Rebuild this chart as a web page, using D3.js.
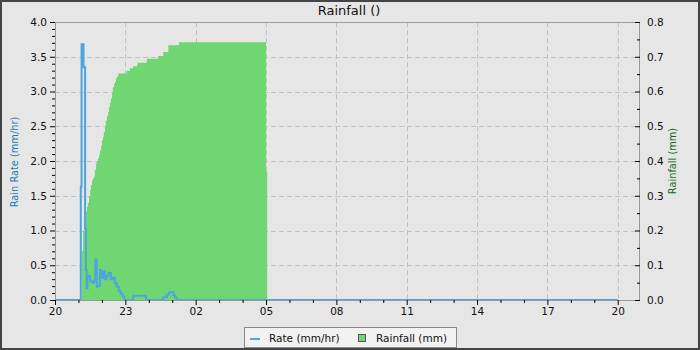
<!DOCTYPE html>
<html><head><meta charset="utf-8">
<script src="https://cdn.jsdelivr.net/npm/d3@7"></script>
<style>
html,body{margin:0;padding:0;background:#e6e6e6;}
svg{display:block;font-family:"DejaVu Sans",sans-serif;}
</style>
</head><body>
<svg id="chart" width="700" height="350"></svg>
<script>
// ---------- data ----------
const chartTitle = "Rainfall ()";
const leftAxisTitle = "Rain Rate (mm/hr)";
const rightAxisTitle = "Rainfall (mm)";
const legendLabels = ["Rate (mm/hr)", "Rainfall (mm)"];
// times: "HH:MM"; hours before 20 (or a leading "+") belong to the next day
const xDomain = ["20:00", "+20:57"];

const rateTimes = ["20:00","21:06","21:08","21:13","21:17","21:19","21:21","21:23","21:26","21:30","21:35",
  "21:40","21:43","21:47","21:50","21:55","21:58","22:02","22:07","22:12","22:17","22:23","22:28","22:33",
  "22:38","22:43","22:48","22:53","22:58","23:20","23:53","00:37","00:46","00:52","01:03","01:07","01:11","+20:00"];
const rateValues = [0,1.63,3.68,3.35,1.02,0.43,0.17,0.33,0.35,0.27,0.25,
  0.28,0.58,0.19,0.20,0.43,0.32,0.41,0.30,0.35,0.39,0.30,0.32,0.24,
  0.19,0.13,0.09,0.05,0,0.06,0,0.04,0.08,0.11,0.07,0.04,0,0];

const rainTimes = ["21:09","21:12","21:17","21:19","21:22","21:24","21:27","21:30","21:32","21:35","21:37",
  "21:40","21:42","21:45","21:47","21:50","21:53","21:55","21:58","22:00","22:03","22:05","22:08","22:10",
  "22:13","22:16","22:18","22:21","22:23","22:26","22:28","22:31","22:34","22:36","22:39","22:42","23:03",
  "23:12","23:20","23:31","23:55","00:24","00:37","00:50","01:17","05:00","05:03"];
const rainValues = [0.14,0.20,0.24,0.255,0.268,0.279,0.298,0.317,0.331,0.345,0.350,
  0.355,0.374,0.393,0.400,0.408,0.417,0.430,0.443,0.460,0.470,0.484,0.499,0.516,
  0.530,0.542,0.555,0.568,0.580,0.597,0.612,0.622,0.628,0.638,0.643,0.652,0.660,
  0.667,0.673,0.683,0.694,0.702,0.714,0.733,0.742,0.37,0];

const rateTicks = [0,0.5,1.0,1.5,2.0,2.5,3.0,3.5,4.0];
const rainTicks = [0,0.1,0.2,0.3,0.4,0.5,0.6,0.7,0.8];

// ---------- helpers ----------
const baseDay = new Date(2024,0,20);
function parseT(s){
  let next = false;
  if (s[0] === "+"){ next = true; s = s.slice(1); }
  const [h,m] = s.split(":").map(Number);
  if (h < 20) next = true;
  return new Date(2024,0,20 + (next?1:0), h, m);
}
const rate = rateTimes.map((t,i)=>({t:parseT(t), v:rateValues[i]}));
const rain = rainTimes.map((t,i)=>({t:parseT(t), v:rainValues[i]}));

// ---------- layout ----------
const W = 700, H = 350;
const L = 55, R = 640, T = 22, B = 300;
const svg = d3.select("#chart");

svg.append("rect").attr("x",1).attr("y",1).attr("width",W-2).attr("height",H-2)
  .attr("fill","#e6e6e6").attr("stroke","#444").attr("stroke-width",2);

const x = d3.scaleTime().domain(xDomain.map(parseT)).range([L,R]);
const yL = d3.scaleLinear().domain([0,4]).range([B,T]);
const yR = d3.scaleLinear().domain([0,0.8]).range([B,T]);

const hours = d3.timeHour.range(x.domain()[0], x.domain()[1]);
const majorX = hours.filter((d,i)=>i%3===0);

// grid
const grid = svg.append("g").attr("stroke","#c2c2c2").attr("stroke-dasharray","5,3").attr("stroke-width",1);
majorX.slice(1).forEach(d=>{
  grid.append("line").attr("x1",Math.round(x(d))+0.5).attr("x2",Math.round(x(d))+0.5).attr("y1",T).attr("y2",B);
});
rateTicks.slice(1,-1).forEach(v=>{
  grid.append("line").attr("x1",L).attr("x2",R).attr("y1",Math.round(yL(v))+0.5).attr("y2",Math.round(yL(v))+0.5);
});

// rainfall area (bars)
const area = d3.area().curve(d3.curveStepAfter)
  .x(d=>x(d.t)).y0(yR(0)).y1(d=>yR(d.v));
svg.append("path").datum(rain).attr("d",area).attr("fill","#6fd672");

// rate line
const line = d3.line().curve(d3.curveStepAfter).x(d=>x(d.t)).y(d=>yL(d.v));
svg.append("path").datum(rate).attr("d",line).attr("fill","none")
  .attr("stroke","#4ca6dd").attr("stroke-width",2);

// frame
svg.append("rect").attr("x",L+0.5).attr("y",T+0.5).attr("width",R-L-1).attr("height",B-T)
  .attr("fill","none").attr("stroke","#999").attr("stroke-width",1);

const fs = "10.5px";
function styleAxis(g){
  g.select(".domain").remove();
  g.selectAll(".tick line").attr("stroke","#000");
  g.selectAll(".tick text").attr("fill","#111").style("font-size",fs).style("font-family","DejaVu Sans");
}

// left axis
const gl = svg.append("g").attr("transform",`translate(${L},0)`)
  .call(d3.axisLeft(yL).tickValues(rateTicks).tickFormat(d3.format(".1f")).tickSize(5).tickPadding(3));
styleAxis(gl);
const minorL = d3.range(0,41).map(i=>i/10).filter(v=>!rateTicks.some(t=>Math.abs(t-v)<1e-9));
const glm = svg.append("g").attr("transform",`translate(${L},0)`)
  .call(d3.axisLeft(yL).tickValues(minorL).tickFormat("").tickSize(3));
styleAxis(glm);

// right axis: ticks inward, labels outside
const grt = svg.append("g").attr("transform",`translate(${R},0)`)
  .call(d3.axisLeft(yR).tickValues(rainTicks).tickFormat("").tickSize(5));
styleAxis(grt);
const minorR = d3.range(0,17).map(i=>i*0.05).filter(v=>!rainTicks.some(t=>Math.abs(t-v)<1e-9));
const grm = svg.append("g").attr("transform",`translate(${R},0)`)
  .call(d3.axisLeft(yR).tickValues(minorR).tickFormat("").tickSize(3));
styleAxis(grm);
const grl = svg.append("g").attr("transform",`translate(${R},0)`)
  .call(d3.axisRight(yR).tickValues(rainTicks).tickFormat(d3.format(".1f")).tickSize(0).tickPadding(7));
styleAxis(grl);

// bottom axis
const gb = svg.append("g").attr("transform",`translate(0,${B})`)
  .call(d3.axisBottom(x).tickValues(majorX).tickFormat(d3.timeFormat("%H")).tickSize(5).tickPadding(3));
styleAxis(gb);
const gbm = svg.append("g").attr("transform",`translate(0,${B})`)
  .call(d3.axisBottom(x).tickValues(hours.filter((d,i)=>i%3!==0)).tickFormat("").tickSize(3));
styleAxis(gbm);

// titles
svg.append("text").attr("x",349).attr("y",15).attr("text-anchor","middle")
  .style("font-size","13px").attr("fill","#111").text(chartTitle);
svg.append("text").attr("transform","translate(18,162) rotate(-90)").attr("text-anchor","middle")
  .style("font-size","9.8px").attr("fill","#1f78b8").text(leftAxisTitle);
svg.append("text").attr("transform","translate(676,161) rotate(-90)").attr("text-anchor","middle")
  .style("font-size","9.8px").attr("fill","#0e6b0e").text(rightAxisTitle);

// legend
const lg = svg.append("g");
lg.append("rect").attr("x",244.5).attr("y",327.5).attr("width",212).attr("height",20)
  .attr("fill","#f2f2f2").attr("stroke","#888");
lg.append("line").attr("x1",250).attr("x2",260).attr("y1",339).attr("y2",339)
  .attr("stroke","#4ca6dd").attr("stroke-width",2);
lg.append("text").attr("x",269).attr("y",342).style("font-size",fs).attr("fill","#111").text(legendLabels[0]);
lg.append("rect").attr("x",358.5).attr("y",334.5).attr("width",7).attr("height",7)
  .attr("fill","#6fd672").attr("stroke","#555");
lg.append("text").attr("x",376).attr("y",342).style("font-size",fs).attr("fill","#111").text(legendLabels[1]);
</script>
</body></html>
